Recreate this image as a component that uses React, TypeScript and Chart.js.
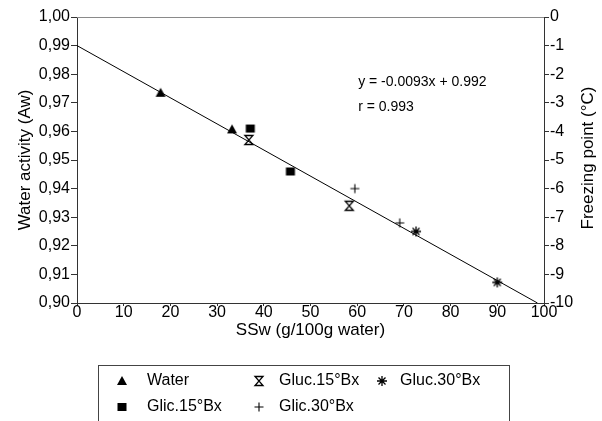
import React, { useEffect, useRef } from 'react';
import { Chart, registerables } from 'chart.js';

Chart.register(...registerables);

// ---- data ----
const waterX = [17.9, 33.2];
const waterY = [0.9735, 0.9607];
const glic15X = [37.1, 45.7];
const glic15Y = [0.961, 0.946];
const gluc15X = [36.8, 58.3];
const gluc15Y = [0.957, 0.934];
const glic30X = [59.5, 69.1];
const glic30Y = [0.94, 0.928];
const gluc30X = [72.6, 90.0];
const gluc30Y = [0.925, 0.9072];
const fitX = [0, 98.6];
const fitY = [0.99, 0.9];

// tick values
const xTicks = [0, 10, 20, 30, 40, 50, 60, 70, 80, 90, 100];
const awTicks = [0.9, 0.91, 0.92, 0.93, 0.94, 0.95, 0.96, 0.97, 0.98, 0.99, 1.0];
const freezeTicks = [0, -1, -2, -3, -4, -5, -6, -7, -8, -9, -10];

const equationText = 'y = -0.0093x + 0.992';
const rText = 'r = 0.993';
const annotX = 60.2;
const annotY = [0.9772, 0.9686];
const rightTitle = 'Freezing point (°C)';

const FONT = '"Liberation Sans", Arial, Helvetica, sans-serif';

function pts(xs: number[], ys: number[]) {
  return xs.map((x, i) => ({ x, y: ys[i] }));
}

function makeMarker(kind: string): HTMLCanvasElement {
  const c = document.createElement('canvas');
  c.width = 14;
  c.height = 14;
  const g = c.getContext('2d')!;
  g.fillStyle = '#000';
  g.strokeStyle = '#000';
  g.lineWidth = 1.3;
  if (kind === 'triangle') {
    g.beginPath();
    g.moveTo(7, 2);
    g.lineTo(12, 11);
    g.lineTo(2, 11);
    g.closePath();
    g.fill();
  } else if (kind === 'square') {
    g.fillRect(2.5, 3, 9, 8);
  } else if (kind === 'hourglass') {
    g.beginPath();
    g.moveTo(3, 2.5);
    g.lineTo(11, 2.5);
    g.lineTo(3, 11.5);
    g.lineTo(11, 11.5);
    g.closePath();
    g.stroke();
  } else if (kind === 'plus') {
    g.lineWidth = 1.1;
    g.beginPath();
    g.moveTo(2.5, 7);
    g.lineTo(11.5, 7);
    g.moveTo(7, 2.5);
    g.lineTo(7, 11.5);
    g.stroke();
  } else if (kind === 'asterisk') {
    g.lineWidth = 1.3;
    g.beginPath();
    g.moveTo(2, 7);
    g.lineTo(12, 7);
    g.moveTo(7, 2);
    g.lineTo(7, 12);
    g.moveTo(3.5, 3.5);
    g.lineTo(10.5, 10.5);
    g.moveTo(10.5, 3.5);
    g.lineTo(3.5, 10.5);
    g.stroke();
  }
  return c;
}

export default function App() {
  const ref = useRef<HTMLCanvasElement>(null);

  useEffect(() => {
    const markers: Record<string, HTMLCanvasElement> = {
      triangle: makeMarker('triangle'),
      square: makeMarker('square'),
      hourglass: makeMarker('hourglass'),
      plus: makeMarker('plus'),
      asterisk: makeMarker('asterisk'),
    };

    const legendItems = [
      { label: 'Water', m: 'triangle', mx: 122, tx: 147, y: 381 },
      { label: 'Gluc.15°Bx', m: 'hourglass', mx: 259, tx: 279, y: 381 },
      { label: 'Gluc.30°Bx', m: 'asterisk', mx: 382, tx: 400, y: 381 },
      { label: 'Glic.15°Bx', m: 'square', mx: 122, tx: 147, y: 407 },
      { label: 'Glic.30°Bx', m: 'plus', mx: 259, tx: 279, y: 407 },
    ];

    const extras = {
      id: 'extras',
      afterDraw(chart: any) {
        const ctx = chart.ctx as CanvasRenderingContext2D;
        const a = chart.chartArea;
        const xs = chart.scales.x;
        const ys = chart.scales.y;
        const y2 = chart.scales.y2;
        ctx.save();
        // top frame line
        ctx.strokeStyle = '#8a8a8a';
        ctx.lineWidth = 1;
        ctx.beginPath();
        ctx.moveTo(a.left, Math.round(a.top) + 0.5);
        ctx.lineTo(a.right, Math.round(a.top) + 0.5);
        ctx.stroke();
        ctx.fillStyle = '#000';
        // right axis title, reading bottom-to-top
        ctx.save();
        ctx.font = `17px ${FONT}`;
        ctx.textAlign = 'center';
        ctx.textBaseline = 'alphabetic';
        ctx.translate(y2.right - 9, (a.top + a.bottom) / 2 - 2);
        ctx.rotate(-Math.PI / 2);
        ctx.fillText(rightTitle, 0, 0);
        ctx.restore();
        // right axis tick labels, from the scale's ticks
        ctx.font = `16px ${FONT}`;
        ctx.textAlign = 'left';
        ctx.textBaseline = 'middle';
        y2.ticks.forEach((t: any) => {
          ctx.fillText(String(Math.round(t.value)), y2.left + 6, y2.getPixelForValue(t.value));
        });
        // equation annotation
        ctx.font = `14px ${FONT}`;
        ctx.fillText(equationText, xs.getPixelForValue(annotX), ys.getPixelForValue(annotY[0]));
        ctx.fillText(rText, xs.getPixelForValue(annotX), ys.getPixelForValue(annotY[1]));
        // legend box
        ctx.strokeStyle = '#444';
        ctx.lineWidth = 1;
        ctx.strokeRect(98.5, 365.5, 411, 70);
        ctx.font = `16px ${FONT}`;
        legendItems.forEach((it) => {
          const img = markers[it.m];
          ctx.drawImage(img, Math.round(it.mx - img.width / 2), Math.round(it.y - img.height / 2));
          ctx.fillText(it.label, it.tx, it.y);
        });
        ctx.restore();
      },
    };

    const tickFont = { family: FONT, size: 16 };
    const titleFont = { family: FONT, size: 17 };
    const setTicks = (vals: number[]) => (s: any) => {
      s.ticks = vals.map((v) => ({ value: v }));
    };

    const chart = new Chart(ref.current!, {
      type: 'scatter',
      data: {
        datasets: [
          {
            label: 'fit',
            type: 'line',
            data: pts(fitX, fitY),
            borderColor: '#000',
            borderWidth: 1,
            pointRadius: 0,
            fill: false,
          } as any,
          { label: 'Water', data: pts(waterX, waterY), pointStyle: markers.triangle, pointRadius: 5 },
          { label: 'Glic.15°Bx', data: pts(glic15X, glic15Y), pointStyle: markers.square, pointRadius: 5 },
          { label: 'Gluc.15°Bx', data: pts(gluc15X, gluc15Y), pointStyle: markers.hourglass, pointRadius: 5 },
          { label: 'Glic.30°Bx', data: pts(glic30X, glic30Y), pointStyle: markers.plus, pointRadius: 5 },
          { label: 'Gluc.30°Bx', data: pts(gluc30X, gluc30Y), pointStyle: markers.asterisk, pointRadius: 5 },
        ],
      },
      options: {
        responsive: false,
        animation: false,
        layout: { padding: { left: 0, right: 0, top: 17, bottom: 68 } },
        plugins: { legend: { display: false }, tooltip: { enabled: false } },
        scales: {
          x: {
            type: 'linear',
            min: 0,
            max: 100,
            afterBuildTicks: setTicks(xTicks),
            ticks: { color: '#000', font: tickFont, padding: -3, maxRotation: 0, autoSkip: false },
            grid: { drawOnChartArea: false, drawTicks: true, tickLength: 3, tickColor: '#333' },
            border: { color: '#333', width: 1 },
            title: {
              display: true,
              text: 'SSw (g/100g water)',
              color: '#000',
              font: titleFont,
              padding: { top: 0, bottom: 12 },
            },
            afterFit: (s: any) => {
              s.height = 50;
            },
          },
          y: {
            type: 'linear',
            position: 'left',
            min: 0.9,
            max: 1.0,
            afterBuildTicks: setTicks(awTicks),
            ticks: {
              color: '#000',
              font: tickFont,
              padding: 1,
              autoSkip: false,
              callback: (v: any) => Number(v).toFixed(2).replace('.', ','),
            },
            grid: { drawOnChartArea: false, drawTicks: true, tickLength: 6, tickColor: '#333' },
            border: { color: '#333', width: 1 },
            title: {
              display: true,
              text: 'Water activity (Aw)',
              color: '#000',
              font: titleFont,
              padding: { top: 15, bottom: 0 },
            },
            afterFit: (s: any) => {
              s.width = 77;
            },
          },
          y2: {
            type: 'linear',
            position: 'right',
            min: -10,
            max: 0,
            afterBuildTicks: setTicks(freezeTicks),
            ticks: {
              color: 'rgba(0,0,0,0)',
              font: tickFont,
              padding: 1,
              autoSkip: false,
            },
            grid: { drawOnChartArea: false, drawTicks: true, tickLength: 5, tickColor: '#333' },
            border: { color: '#333', width: 1 },
            title: { display: false },
            afterFit: (s: any) => {
              s.width = 58;
            },
          },
        },
      },
      plugins: [extras],
    });

    return () => chart.destroy();
  }, []);

  return (
    <div style={{ position: 'absolute', left: 0, top: 0, width: 602, height: 421, background: '#fff' }}>
      <canvas ref={ref} width={602} height={421} />
    </div>
  );
}
